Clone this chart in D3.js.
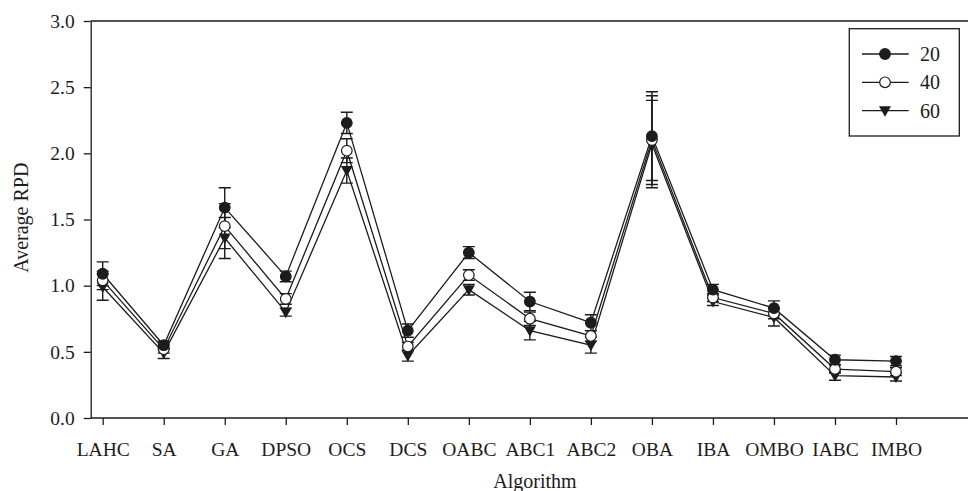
<!DOCTYPE html>
<html><head><meta charset="utf-8">
<script src="https://cdn.jsdelivr.net/npm/d3@7"></script>
<style>html,body{margin:0;padding:0;background:#fff;}svg{display:block;}</style>
</head><body>
<script>
const categories = ["LAHC","SA","GA","DPSO","OCS","DCS","OABC","ABC1","ABC2","OBA","IBA","OMBO","IABC","IMBO"];
const seriesNames = ["20","40","60"];
const values20 = [1.09,0.55,1.59,1.07,2.23,0.66,1.25,0.88,0.72,2.13,0.97,0.83,0.44,0.43];
const values40 = [1.04,0.52,1.45,0.90,2.02,0.54,1.08,0.75,0.62,2.10,0.91,0.79,0.37,0.35];
const values60 = [0.99,0.49,1.36,0.80,1.87,0.47,0.97,0.66,0.55,2.07,0.88,0.76,0.32,0.31];
const err20 = [0.09,0.03,0.15,0.04,0.08,0.05,0.045,0.07,0.06,0.335,0.04,0.055,0.035,0.035];
const err40 = [0.07,0.03,0.17,0.04,0.09,0.03,0.04,0.05,0.04,0.335,0.03,0.04,0.03,0.03];
const err60 = [0.10,0.04,0.155,0.03,0.095,0.04,0.04,0.07,0.06,0.33,0.03,0.065,0.035,0.03];
const yTicks = [0,0.5,1.0,1.5,2.0,2.5,3.0];

const W = 968, H = 491;
const L = 90.7, R = 979, T = 21, B = 418;
const ink = "#1c1c1c";
const font = "'Liberation Serif','Times New Roman',serif";

const svg = d3.select("body").append("svg").attr("width", W).attr("height", H);

const x = d3.scalePoint().domain(categories).range([102.7, 896]);
const y = d3.scaleLinear().domain([0,3]).range([B, T]);

// frame top & right
svg.append("path").attr("d", `M${L},${T}H${R}V${B}`).attr("fill","none").attr("stroke",ink).attr("stroke-width",1.3);

const yAxis = svg.append("g").attr("transform",`translate(${L},0)`)
  .call(d3.axisLeft(y).tickValues(yTicks).tickFormat(d3.format(".1f")).tickSize(7).tickPadding(9).tickSizeOuter(0));
const xAxis = svg.append("g").attr("transform",`translate(0,${B})`)
  .call(d3.axisBottom(x).tickSize(7).tickPadding(17).tickSizeOuter(0));
xAxis.select(".domain").attr("d", `M${L},0H${R}`);
[yAxis,xAxis].forEach(a=>{
  a.selectAll("path,line").attr("stroke",ink).attr("stroke-width",1.3);
  a.selectAll("text").attr("fill",ink).style("font-family",font).style("font-size","19.5px");
});

svg.append("text").attr("transform",`translate(28,217.7) rotate(-90)`).attr("text-anchor","middle")
  .attr("fill",ink).style("font-family",font).style("font-size","20px").text("Average RPD");
svg.append("text").attr("x",535).attr("y",487.5).attr("text-anchor","middle")
  .attr("fill",ink).style("font-family",font).style("font-size","20px").text("Algorithm");

const series = [
  {name:seriesNames[0], vals:values20, errs:err20, shape:"fcircle"},
  {name:seriesNames[1], vals:values40, errs:err40, shape:"ocircle"},
  {name:seriesNames[2], vals:values60, errs:err60, shape:"tri"}
];

// error bars
series.forEach(s=>{
  const g = svg.append("g");
  categories.forEach((c,i)=>{
    const cx = x(c), hi = y(s.vals[i]+s.errs[i]), lo = y(s.vals[i]-s.errs[i]);
    g.append("path").attr("d",`M${cx},${hi}V${lo}M${cx-6},${hi}H${cx+6}M${cx-6},${lo}H${cx+6}`)
      .attr("stroke",ink).attr("stroke-width",1.4).attr("fill","none");
  });
});
// lines
const line = d3.line().x((d,i)=>x(categories[i])).y(d=>y(d));
series.forEach(s=>{
  svg.append("path").datum(s.vals).attr("d",line).attr("fill","none").attr("stroke",ink).attr("stroke-width",1.3);
});
function marker(g, shape, cx, cy){
  if(shape==="tri"){
    g.append("path").attr("d",`M${cx-6},${cy-4.5}L${cx+6},${cy-4.5}L${cx},${cy+6}Z`).attr("fill",ink);
  } else {
    g.append("circle").attr("cx",cx).attr("cy",cy).attr("r",5.3)
      .attr("fill", shape==="fcircle"?ink:"#fff").attr("stroke",ink).attr("stroke-width",1.2);
  }
}
// markers (draw 60 first, then 40, then 20 on top)
[series[2],series[1],series[0]].forEach(s=>{
  const g = svg.append("g");
  categories.forEach((c,i)=>marker(g, s.shape, x(c), y(s.vals[i])));
});

// legend
const lg = svg.append("g");
lg.append("rect").attr("x",849.3).attr("y",28.7).attr("width",110).attr("height",107.3)
  .attr("fill","#fff").attr("stroke",ink).attr("stroke-width",1.3);
const rows = [54,82.3,110.7];
series.forEach((s,i)=>{
  lg.append("line").attr("x1",862).attr("x2",908.7).attr("y1",rows[i]).attr("y2",rows[i]).attr("stroke",ink).attr("stroke-width",1.3);
  marker(lg, s.shape, 885, rows[i]);
  lg.append("text").attr("x",920).attr("y",rows[i]+7).attr("fill",ink)
    .style("font-family",font).style("font-size","20px").text(s.name);
});
</script>
</body></html>
